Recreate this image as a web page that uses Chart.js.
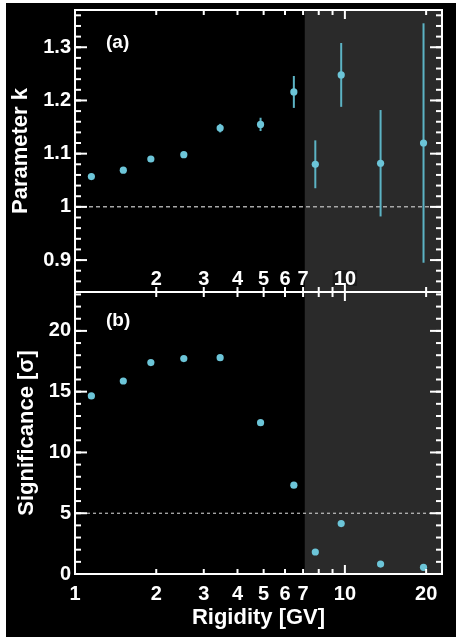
<!DOCTYPE html>
<html lang="en">
<head>
  <meta charset="UTF-8" />
  <title>Parameter k and significance vs rigidity</title>
  <script src="https://cdn.jsdelivr.net/npm/chart.js"></script>
  <style>
    body { margin: 0; background: #fff; width: 456px; height: 637px; overflow: hidden; position: relative; }
    .panel { position: absolute; left: 6px; top: 3px; width: 450px; height: 634px; background: #000; }
    canvas { position: absolute; left: 0; }
    #chartA { top: 0; width: 450px; height: 300px; }
    #chartB { top: 280px; width: 450px; height: 354px; }
  </style>
</head>
<body>
  <div class="panel">
    <canvas id="chartA" width="450" height="300"></canvas>
    <canvas id="chartB" width="450" height="354"></canvas>
  </div>

  <script>
    // data
    const rigidity     = [1.15, 1.51, 1.91, 2.53, 3.45, 4.87, 6.47, 7.77, 9.69, 13.56, 19.56];
    const paramK       = [1.057, 1.069, 1.090, 1.098, 1.148, 1.155, 1.216, 1.080, 1.248, 1.082, 1.120];
    const paramKErr    = [0.003, 0.003, 0.003, 0.003, 0.008, 0.0125, 0.030, 0.045, 0.060, 0.100, 0.225];
    const significance = [14.65, 15.88, 17.39, 17.72, 17.80, 12.45, 7.31, 1.81, 4.15, 0.82, 0.55];

    const xTickValues = [1, 2, 3, 4, 5, 6, 7, 10, 20];
    const xInnerLabels = [2, 3, 4, 5, 6, 7, 10];
    const xMinorTicks = [2, 3, 4, 5, 6, 7, 8, 9, 20];
    const xMajorTicks = [1, 10];
    const kTicks = [0.9, 1.0, 1.1, 1.2, 1.3];
    const sigTicks = [0, 5, 10, 15, 20];
    const shadeFrom = 7.1;

    const pointColor = '#6cc5d8';
    const errColor = '#5cb3c4';
    const tickFont = { family: 'Liberation Sans, Arial, sans-serif', size: 20, weight: 'bold' };
    const titleFont = { family: 'Liberation Sans, Arial, sans-serif', size: 22, weight: 'bold' };

    function minorSteps(min, max, step) {
      const out = [];
      for (let v = Math.ceil(min / step) * step; v <= max + 1e-9; v += step) out.push(+v.toFixed(4));
      return out;
    }

    const panelDecor = {
      id: 'panelDecor',
      beforeDatasetsDraw(chart, args, opts) {
        const { ctx, chartArea: a, scales: { x, y } } = chart;
        ctx.save();
        const sx = x.getPixelForValue(shadeFrom);
        ctx.fillStyle = '#2a2a2a';
        ctx.fillRect(sx, a.top, a.right - sx, a.bottom - a.top);

        const ry = y.getPixelForValue(opts.refLine);
        ctx.strokeStyle = opts.refColor;
        ctx.lineWidth = opts.refWidth;
        ctx.setLineDash(opts.refDash);
        ctx.beginPath(); ctx.moveTo(a.left, ry); ctx.lineTo(a.right, ry); ctx.stroke();
        ctx.setLineDash([]);

        if (opts.errors) {
          ctx.strokeStyle = errColor;
          ctx.lineWidth = 2;
          chart.data.datasets[0].data.forEach((p, i) => {
            const px = x.getPixelForValue(p.x);
            ctx.beginPath();
            ctx.moveTo(px, y.getPixelForValue(p.y - opts.errors[i]));
            ctx.lineTo(px, y.getPixelForValue(p.y + opts.errors[i]));
            ctx.stroke();
          });
        }
        ctx.restore();
      },
      afterDraw(chart, args, opts) {
        const { ctx, chartArea: a, scales: { x, y } } = chart;
        ctx.save();
        ctx.strokeStyle = '#fff';
        ctx.fillStyle = '#fff';

        // x labels sitting inside the top panel
        if (opts.innerLabels) {
          ctx.font = 'bold 20px Liberation Sans, Arial, sans-serif';
          ctx.textAlign = 'center';
          ctx.textBaseline = 'alphabetic';
          opts.innerLabels.forEach(v => {
            const px = x.getPixelForValue(v);
            if (v === 10) {
              const w = ctx.measureText('10').width;
              ctx.fillStyle = '#1c1c1c';
              ctx.fillRect(px - w / 2 - 1, a.bottom - 22, w + 2, 16);
              ctx.fillStyle = '#fff';
            }
            ctx.fillText(String(v), px, a.bottom - 7);
          });
        }

        // panel tag
        ctx.font = 'bold 19px Liberation Sans, Arial, sans-serif';
        ctx.textAlign = 'left';
        ctx.textBaseline = 'alphabetic';
        ctx.fillText(opts.tag, a.left + 31, a.top + opts.tagDy);

        // frame
        ctx.lineWidth = 2;
        ctx.strokeRect(a.left, a.top, a.right - a.left, a.bottom - a.top);

        // inward ticks
        const tick = (x1, y1, x2, y2) => { ctx.beginPath(); ctx.moveTo(x1, y1); ctx.lineTo(x2, y2); ctx.stroke(); };
        xMinorTicks.forEach(v => {
          const px = x.getPixelForValue(v);
          tick(px, a.top, px, a.top + 5);
          tick(px, a.bottom, px, a.bottom - 5);
        });
        xMajorTicks.forEach(v => {
          const px = x.getPixelForValue(v);
          tick(px, a.top, px, a.top + 9);
          tick(px, a.bottom, px, a.bottom - 9);
        });
        opts.yMinor.forEach(v => {
          const py = y.getPixelForValue(v);
          if (py < a.top + 1 || py > a.bottom - 1) return;
          tick(a.left, py, a.left + 6, py);
          tick(a.right, py, a.right - 6, py);
        });
        opts.yMajor.forEach(v => {
          const py = y.getPixelForValue(v);
          tick(a.left, py, a.left + 12, py);
          tick(a.right, py, a.right - 12, py);
        });
        ctx.restore();
      }
    };

    function fixY(width) {
      return scale => { scale.width = width; scale.paddingTop = 0; scale.paddingBottom = 0; };
    }

    // (a) parameter k
    new Chart(document.getElementById('chartA'), {
      type: 'scatter',
      data: {
        datasets: [{
          data: rigidity.map((r, i) => ({ x: r, y: paramK[i] })),
          pointRadius: 3.6,
          pointBackgroundColor: pointColor,
          pointBorderWidth: 0
        }]
      },
      options: {
        responsive: false,
        animation: false,
        layout: { padding: { left: 0, right: 14, top: 7, bottom: 11 } },
        scales: {
          x: {
            type: 'logarithmic', min: 1, max: 22.9,
            grid: { display: false, drawTicks: false },
            border: { display: false },
            ticks: { display: false },
            afterFit: s => { s.height = 0; s.paddingLeft = 0; s.paddingRight = 0; }
          },
          y: {
            min: 0.84, max: 1.37,
            grid: { display: false, drawTicks: false },
            border: { display: false },
            afterBuildTicks: s => { s.ticks = kTicks.map(v => ({ value: v })); },
            ticks: {
              color: '#fff', font: tickFont, padding: 4,
              callback: v => (Math.abs(v - 1) < 1e-9 ? '1' : v.toFixed(1))
            },
            title: { display: true, text: 'Parameter k', color: '#fff', font: titleFont, padding: { top: 2 } },
            afterFit: fixY(69)
          }
        },
        plugins: {
          legend: { display: false },
          tooltip: { enabled: false },
          panelDecor: {
            refLine: 1, refColor: '#a8a8a8', refWidth: 1.5, refDash: [4, 3],
            errors: paramKErr, innerLabels: xInnerLabels,
            tag: '(a)', tagDy: 38,
            yMajor: kTicks, yMinor: minorSteps(0.84, 1.37, 0.02)
          }
        }
      },
      plugins: [panelDecor]
    });

    // (b) significance
    new Chart(document.getElementById('chartB'), {
      type: 'scatter',
      data: {
        datasets: [{
          data: rigidity.map((r, i) => ({ x: r, y: significance[i] })),
          pointRadius: 3.6,
          pointBackgroundColor: pointColor,
          pointBorderWidth: 0
        }]
      },
      options: {
        responsive: false,
        animation: false,
        layout: { padding: { left: 0, right: 14, top: 9, bottom: 0 } },
        scales: {
          x: {
            type: 'logarithmic', min: 1, max: 22.9,
            grid: { display: false, drawTicks: false },
            border: { display: false },
            afterBuildTicks: s => { s.ticks = xTickValues.map(v => ({ value: v })); },
            ticks: {
              color: '#fff', font: tickFont, padding: 8,
              autoSkip: false, maxRotation: 0, minRotation: 0,
              callback: v => String(v)
            },
            title: { display: true, text: 'Rigidity [GV]', color: '#fff', font: titleFont, padding: { bottom: 6 } },
            afterFit: s => { s.height = 63; s.paddingLeft = 0; s.paddingRight = 0; }
          },
          y: {
            min: 0, max: 23.2,
            grid: { display: false, drawTicks: false },
            border: { display: false },
            afterBuildTicks: s => { s.ticks = sigTicks.map(v => ({ value: v })); },
            ticks: { color: '#fff', font: tickFont, padding: 4 },
            title: { display: true, text: 'Significance [σ]', color: '#fff', font: titleFont, padding: { top: 8 } },
            afterFit: fixY(69)
          }
        },
        plugins: {
          legend: { display: false },
          tooltip: { enabled: false },
          panelDecor: {
            refLine: 5, refColor: '#e0e0e0', refWidth: 1, refDash: [3, 3],
            errors: null, innerLabels: null,
            tag: '(b)', tagDy: 34,
            yMajor: sigTicks, yMinor: minorSteps(0, 23.2, 1)
          }
        }
      },
      plugins: [panelDecor]
    });
  </script>
</body>
</html>
